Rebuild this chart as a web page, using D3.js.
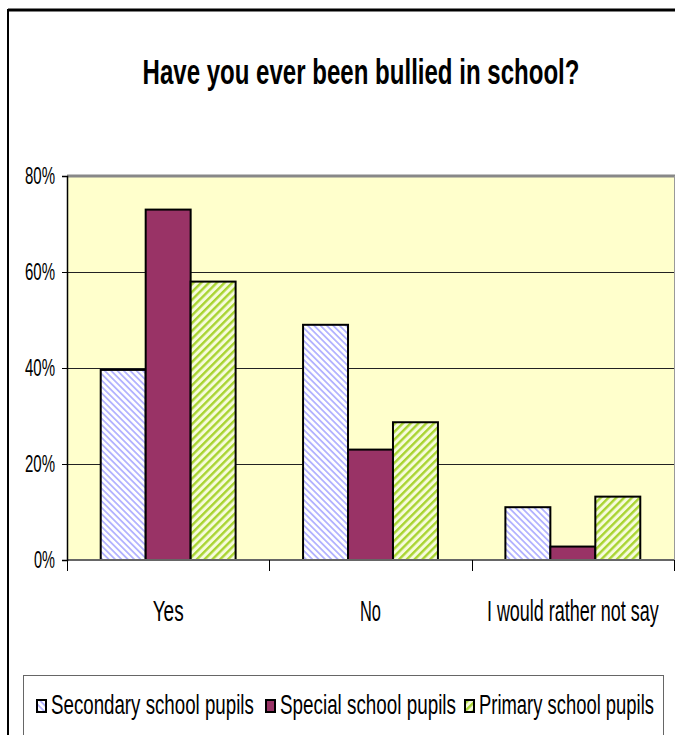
<!DOCTYPE html>
<html>
<head>
<meta charset="utf-8">
<script src="https://cdn.jsdelivr.net/npm/d3@7"></script>
<style>
  html, body { margin: 0; padding: 0; background: #ffffff; }
  svg { display: block; }
  text { font-family: "Liberation Sans", Arial, sans-serif; fill: #000; }
</style>
</head>
<body>
<svg id="chart" width="675" height="735"></svg>
<script>
// Survey answers, share of pupils per group
const categories = ["Yes", "No", "I would rather not say"];
const seriesNames = ["Secondary school pupils", "Special school pupils", "Primary school pupils"];
const secondary = [0.396, 0.49, 0.11];
const special = [0.73, 0.23, 0.028];
const primary = [0.58, 0.287, 0.132];
const yTicks = [0, 0.2, 0.4, 0.6, 0.8];
const titleText = "Have you ever been bullied in school?";

const seriesValues = [secondary, special, primary];

const svg = d3.select("#chart");
const W = 675, H = 735;

// Condensed lettering: draw a label at (x, y) squeezed horizontally to a set width.
function condensedText(parent, x, y, str, size, width, opts = {}) {
  const g = parent.append("g");
  const t = g.append("text").attr("x", 0).attr("y", 0)
    .attr("font-size", size)
    .attr("font-weight", opts.bold ? "bold" : null)
    .attr("text-anchor", opts.anchor || "start")
    .text(str);
  const natural = t.node().getComputedTextLength();
  const k = width / natural;
  g.attr("transform", `translate(${x},${y}) scale(${k},1)`);
  return t;
}

// hatch patterns for the two striped series
const defs = svg.append("defs");
const pSec = defs.append("pattern").attr("id", "hatchSec")
  .attr("patternUnits", "userSpaceOnUse").attr("width", 4.5).attr("height", 4.5)
  .attr("patternTransform", "rotate(-45)");
pSec.append("rect").attr("width", 4.5).attr("height", 4.5).attr("fill", "#ffffff");
pSec.append("rect").attr("width", 1.8).attr("height", 4.5).attr("fill", "#b3b3ff");

const pPri = defs.append("pattern").attr("id", "hatchPri")
  .attr("patternUnits", "userSpaceOnUse").attr("width", 5.5).attr("height", 5.5)
  .attr("patternTransform", "rotate(45)");
pPri.append("rect").attr("width", 5.5).attr("height", 5.5).attr("fill", "#f6fbdc");
pPri.append("rect").attr("width", 2.4).attr("height", 5.5).attr("fill", "#a8d430");

const fills = ["url(#hatchSec)", "#993366", "url(#hatchPri)"];

// outer chart frame
svg.append("line").attr("x1", 8).attr("x2", W + 5).attr("y1", 10).attr("y2", 10)
  .attr("stroke", "#000").attr("stroke-width", 3);
svg.append("line").attr("x1", 8).attr("x2", 8).attr("y1", 9).attr("y2", H + 5)
  .attr("stroke", "#000").attr("stroke-width", 2);

// title
condensedText(svg, 361, 84, titleText, 36, 437, { bold: true, anchor: "middle" });

// plot area
const plot = { left: 67, right: 674, top: 176, bottom: 560 };

const x = d3.scaleBand().domain(categories).range([plot.left, plot.right]).padding(0);
const xs = d3.scaleBand().domain(seriesNames).range([0, x.bandwidth()])
  .paddingInner(0).paddingOuter(0.75);
const y = d3.scaleLinear().domain([0, 0.8]).range([plot.bottom, plot.top]);

svg.append("rect").attr("x", plot.left).attr("y", plot.top)
  .attr("width", plot.right - plot.left).attr("height", plot.bottom - plot.top)
  .attr("fill", "#ffffcc");

// gridlines
svg.append("g").selectAll("line").data(yTicks.filter(t => t > 0 && t < 0.8)).join("line")
  .attr("x1", plot.left).attr("x2", plot.right)
  .attr("y1", d => Math.round(y(d)) + 0.5).attr("y2", d => Math.round(y(d)) + 0.5)
  .attr("stroke", "#222").attr("stroke-width", 1);

// plot border (top and right)
svg.append("line").attr("x1", plot.left).attr("x2", plot.right + 1)
  .attr("y1", y(0.8)).attr("y2", y(0.8)).attr("stroke", "#888").attr("stroke-width", 3);
svg.append("line").attr("x1", plot.right + 0.5).attr("x2", plot.right + 0.5)
  .attr("y1", plot.top).attr("y2", plot.bottom).attr("stroke", "#999").attr("stroke-width", 1);

// bars
const groups = svg.append("g").selectAll("g").data(seriesNames).join("g");
groups.each(function(name, si) {
  d3.select(this).selectAll("rect").data(seriesValues[si]).join("rect")
    .attr("x", (d, i) => x(categories[i]) + xs(name))
    .attr("y", d => y(d))
    .attr("width", xs.bandwidth())
    .attr("height", d => y(0) - y(d))
    .attr("fill", fills[si])
    .attr("stroke", "#000").attr("stroke-width", 2);
});

// x axis
const xAxisG = svg.append("g").attr("transform", `translate(0,${plot.bottom})`);
xAxisG.append("line").attr("x1", plot.left).attr("x2", plot.right)
  .attr("y1", 0).attr("y2", 0).attr("stroke", "#666").attr("stroke-width", 2);
const xTickPos = categories.map(c => x(c)).concat([plot.right]);
xAxisG.selectAll("line.tick").data(xTickPos).join("line").attr("class", "tick")
  .attr("x1", d => Math.round(d) + 0.5).attr("x2", d => Math.round(d) + 0.5)
  .attr("y1", 0).attr("y2", 11).attr("stroke", "#000").attr("stroke-width", 1);
const catWidths = [31, 21, 172];
categories.forEach((c, i) => {
  condensedText(xAxisG, x(c) + x.bandwidth() / 2, 61, c, 30, catWidths[i], { anchor: "middle" });
});

// y axis: line and ticks from d3, labels condensed
const yAxis = d3.axisLeft(y).tickValues(yTicks).tickFormat("").tickSize(5);
const yAxisG = svg.append("g").attr("transform", `translate(${plot.left},0)`).call(yAxis);
yAxisG.select(".domain").attr("stroke", "#000").attr("stroke-width", 1.5);
yAxisG.selectAll(".tick line").attr("stroke", "#000");
const pct = d3.format(".0%");
yTicks.forEach(t => {
  condensedText(svg, plot.left - 12, y(t) + 8, pct(t), 23, t === 0 ? 21 : 30, { anchor: "end" });
});

// legend
const legend = svg.append("g");
legend.append("rect").attr("x", 23.5).attr("y", 675.5).attr("width", 640).attr("height", 80)
  .attr("fill", "#fff").attr("stroke", "#666").attr("stroke-width", 1);
const legendX = [37, 266, 465];
const legendW = [203, 176, 175];
seriesNames.forEach((name, i) => {
  legend.append("rect").attr("x", legendX[i]).attr("y", 700).attr("width", 9).attr("height", 12)
    .attr("fill", fills[i]).attr("stroke", "#000").attr("stroke-width", 2);
  condensedText(legend, legendX[i] + 14, 714, name, 28, legendW[i]);
});
</script>
</body>
</html>
